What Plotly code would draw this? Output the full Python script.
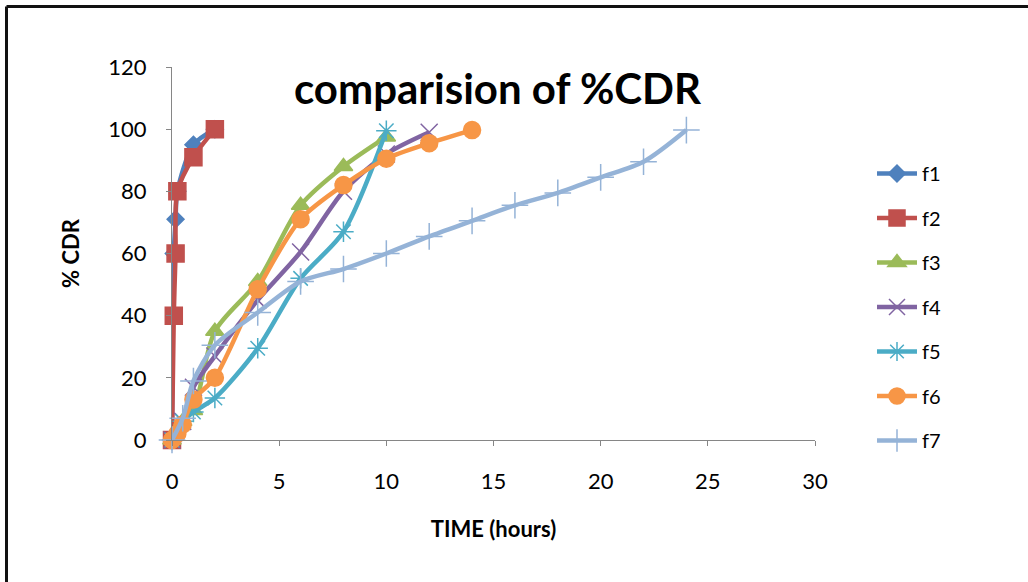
import plotly.graph_objects as go

# ---- data ----
names = ["f1", "f2", "f3", "f4", "f5", "f6", "f7"]

t_f1 = [0, 0.083, 0.167, 0.25, 1, 2]
v_f1 = [0, 60, 71, 80, 95, 100]

t_f2 = [0, 0.083, 0.167, 0.25, 1, 2]
v_f2 = [0, 40, 60, 80, 91, 100]

t_f3 = [0, 0.5, 1, 2, 4, 6, 8, 10]
v_f3 = [0, 6, 9.5, 35, 51, 75.5, 88, 97.5]

t_f4 = [0, 0.5, 1, 2, 4, 6, 8, 10, 12]
v_f4 = [0, 6, 17, 27, 45, 60.5, 80, 92, 99]

t_f5 = [0, 0.5, 1, 2, 4, 6, 8, 10]
v_f5 = [0, 6, 9, 13.5, 29.5, 52, 67, 99.5]

t_f6 = [0, 0.25, 0.5, 1, 2, 4, 6, 8, 10, 12, 14]
v_f6 = [0, 2, 5, 13, 20, 48.5, 71, 82, 90.5, 95.5, 99.7]

t_f7 = [0, 0.5, 1, 2, 4, 6, 8, 10, 12, 14, 16, 18, 20, 22, 24]
v_f7 = [0, 7, 19, 30.5, 41, 51, 55, 60, 65.5, 70.5, 75.5, 79.5, 84.5, 89.5, 99.7]

x_ticks = [0, 5, 10, 15, 20, 25, 30]
y_ticks = [0, 20, 40, 60, 80, 100, 120]

# ---- styles ----
colors = ["#4F81BD", "#C0504D", "#9BBB59", "#8064A2", "#4BACC6", "#F79646", "#95B3D7"]
symbols = ["diamond", "square", "triangle-up", "x-thin-open", "asterisk-open", "circle", "cross-thin-open"]
msizes = [13, 17, 16, 17, 17, 17, 19]

series = [(t_f1, v_f1), (t_f2, v_f2), (t_f3, v_f3), (t_f4, v_f4),
          (t_f5, v_f5), (t_f6, v_f6), (t_f7, v_f7)]

FONT = "Lato"

fig = go.Figure()
for i, (nm, (tx, vy)) in enumerate(zip(names, series)):
    fig.add_trace(go.Scatter(
        x=tx, y=vy, name=nm, mode="lines+markers",
        legendgroup=nm, cliponaxis=False,
        line=dict(color=colors[i], width=4.5, shape="spline", smoothing=0.8),
        marker=dict(symbol=symbols[i], size=msizes[i], color=colors[i],
                    line=dict(color=colors[i], width=1.5)),
    ))

L, R, T, B = 172, 1028 - 815, 67, 582 - 440
W, H = 1028 - L - R, 582 - T - B

def px(p):
    return (p - L) / W

def py(q):
    return (582 - B - q) / H

fig.update_layout(
    width=1028, height=582,
    margin=dict(l=L, r=R, t=T, b=B),
    paper_bgcolor="white", plot_bgcolor="white",
    font=dict(family=FONT, color="#000000"),
    showlegend=True,
    legend=dict(x=px(872), y=py(154), xanchor="left", yanchor="top",
                font=dict(size=20, family=FONT, color="#000"),
                tracegroupgap=15.5, bgcolor="rgba(0,0,0,0)", itemwidth=40),
    xaxis=dict(range=[0, 30], tickvals=x_ticks, ticktext=[str(v) for v in x_ticks],
               showgrid=False, zeroline=False, showline=True, linecolor="#868686",
               linewidth=1, ticks="outside", ticklen=5, tickcolor="#868686",
               tickfont=dict(size=22, family=FONT, color="#000"),
               ticklabelstandoff=17,
               title=dict(text="<b>TIME (hours)</b>", font=dict(size=22, family=FONT), standoff=28)),
    yaxis=dict(range=[0, 120], tickvals=y_ticks, ticktext=[str(v) for v in y_ticks],
               showgrid=False, zeroline=False, showline=True, linecolor="#868686",
               linewidth=1, ticks="outside", ticklen=5, tickcolor="#868686",
               tickfont=dict(size=22, family=FONT, color="#000"),
               ticklabelstandoff=15,
               title=dict(text="<b>% CDR</b>", font=dict(size=22, family=FONT), standoff=22)),
    annotations=[dict(text="<b>comparision of %CDR</b>", x=px(498), y=py(88),
                      xref="paper", yref="paper", showarrow=False,
                      xanchor="center", yanchor="middle",
                      font=dict(size=42, family=FONT, color="#000"))],
    shapes=[
        dict(type="line", xref="paper", yref="paper", x0=px(6.5), x1=px(1028), y0=py(6.5), y1=py(6.5),
             line=dict(color="#111", width=3)),
        dict(type="line", xref="paper", yref="paper", x0=px(6.5), x1=px(6.5), y0=py(6.5), y1=py(582),
             line=dict(color="#111", width=3)),
    ],
)

fig.write_html("out.html")
